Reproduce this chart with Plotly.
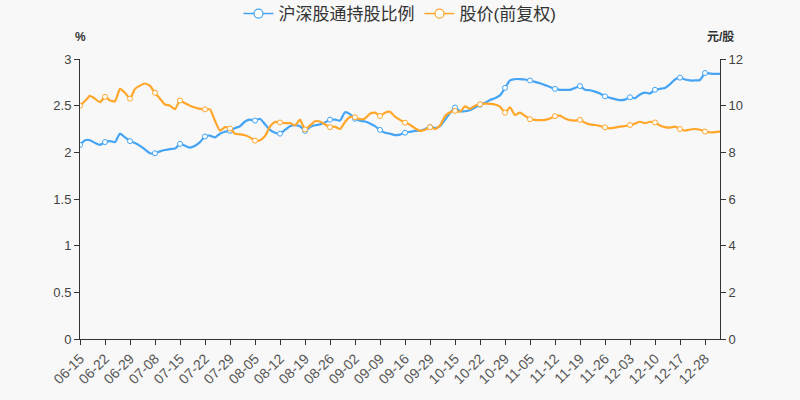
import plotly.graph_objects as go

tick_labels = ["06-15", "06-22", "06-29", "07-08", "07-15", "07-22", "07-29", "08-05",
               "08-12", "08-19", "08-26", "09-02", "09-09", "09-16", "09-29", "10-15",
               "10-22", "10-29", "11-05", "11-12", "11-19", "11-26", "12-03", "12-10",
               "12-17", "12-28"]

holding_pct = [2.08, 2.13, 2.13, 2.10, 2.08, 2.11, 2.12, 2.11, 2.20, 2.16,
               2.12, 2.10, 2.07, 2.03, 1.99, 1.99, 2.01, 2.025, 2.035, 2.04,
               2.09, 2.07, 2.05, 2.07, 2.11, 2.17, 2.18, 2.16, 2.20, 2.22,
               2.23, 2.26, 2.28, 2.33, 2.35, 2.34, 2.36, 2.30, 2.24, 2.21,
               2.20, 2.24, 2.28, 2.29, 2.28, 2.23, 2.27, 2.29, 2.30, 2.32,
               2.35, 2.35, 2.34, 2.43, 2.41, 2.36, 2.34, 2.33, 2.31, 2.28,
               2.24, 2.21, 2.20, 2.185, 2.19, 2.21, 2.22, 2.23, 2.23, 2.25,
               2.27, 2.26, 2.28, 2.35, 2.42, 2.48, 2.44, 2.44, 2.45, 2.48,
               2.51, 2.53, 2.56, 2.58, 2.61, 2.69, 2.77, 2.785, 2.785, 2.78,
               2.77, 2.755, 2.74, 2.72, 2.70, 2.68, 2.67, 2.67, 2.67, 2.69,
               2.71, 2.67, 2.665, 2.65, 2.63, 2.60, 2.585, 2.57, 2.56, 2.565,
               2.59, 2.58, 2.62, 2.64, 2.63, 2.67, 2.68, 2.69, 2.73, 2.78,
               2.80, 2.78, 2.77, 2.77, 2.775, 2.85, 2.845, 2.84, 2.84]

price = [10.0, 10.2, 10.42, 10.3, 10.15, 10.38, 10.22, 10.19, 10.72, 10.55,
         10.3, 10.72, 10.86, 10.95, 10.85, 10.55, 10.3, 10.05, 10.0, 9.85,
         10.22, 10.1, 10.0, 9.92, 9.86, 9.84, 9.84, 9.35, 8.93, 9.08,
         9.02, 8.8, 8.77, 8.73, 8.64, 8.5, 8.52, 8.7, 9.1, 9.3,
         9.28, 9.25, 9.25, 9.15, 9.4, 8.98, 9.15, 9.33, 9.32, 9.2,
         9.08, 9.1, 9.0, 9.3, 9.52, 9.5, 9.42, 9.45, 9.65, 9.7,
         9.56, 9.7, 9.74, 9.53, 9.39, 9.27, 9.18, 9.03, 8.92, 8.97,
         9.08, 9.0, 9.15, 9.55, 9.72, 9.78, 9.74, 9.97, 9.86, 10.0,
         10.06, 10.09, 10.08, 10.05, 9.96, 9.7, 9.93, 9.6, 9.7, 9.56,
         9.42, 9.39, 9.38, 9.39, 9.45, 9.55, 9.57, 9.45, 9.38, 9.36,
         9.39, 9.27, 9.2, 9.17, 9.13, 9.07, 9.03, 9.06, 9.1, 9.13,
         9.17, 9.23, 9.31, 9.25, 9.31, 9.28, 9.15, 9.08, 9.06, 9.1,
         9.0, 8.93, 8.98, 9.0, 8.97, 8.89, 8.86, 8.87, 8.89]

BLUE = "#45a5f4"
ORANGE = "#ffa62b"
FONT = "Liberation Sans, Noto Sans CJK SC, sans-serif"

n = len(holding_pct)
xs = list(range(n))
mk = [i for i in xs if i % 5 == 0]

fig = go.Figure()
series = [("沪深股通持股比例", holding_pct, BLUE, "y"),
          ("股价(前复权)", price, ORANGE, "y2")]
for name, vals, col, ax in series:
    fig.add_trace(go.Scatter(x=xs, y=vals, mode="lines", yaxis=ax, showlegend=False,
                             line=dict(color=col, width=2.2, shape="spline", smoothing=0.5),
                             hoverinfo="skip"))
    fig.add_trace(go.Scatter(x=mk, y=[vals[i] for i in mk], mode="markers", yaxis=ax,
                             showlegend=False,
                             marker=dict(size=5, color="white", line=dict(color=col, width=1))))
for name, vals, col, ax in series:
    fig.add_trace(go.Scatter(x=[None], y=[None], mode="lines+markers", name=name, yaxis=ax,
                             line=dict(color=col, width=1.5),
                             marker=dict(size=9, color="white", line=dict(color=col, width=1.2))))

fig.update_layout(
    width=800, height=400,
    paper_bgcolor="#f8f8f8", plot_bgcolor="#f8f8f8",
    margin=dict(l=80, r=80, t=59, b=61),
    font=dict(family=FONT, color="#333"),
    showlegend=True,
    legend=dict(orientation="h", x=0.5, xanchor="center", y=0.965, yref="container",
                yanchor="middle", font=dict(size=17, color="#333"), itemwidth=30,
                bgcolor="rgba(0,0,0,0)", tracegroupgap=0),
    xaxis=dict(range=[0, n - 1], tickmode="array", tickvals=[i * 5 for i in range(len(tick_labels))],
               ticktext=tick_labels, tickangle=-45, showgrid=False, zeroline=False,
               showline=True, linecolor="#333", linewidth=1, ticks="outside", ticklen=5,
               tickcolor="#333", tickfont=dict(size=14, color="#555"), automargin=False),
    yaxis=dict(range=[0, 3], dtick=0.5, showgrid=False, zeroline=False, showline=True,
               linecolor="#333", linewidth=1, ticks="outside", ticklen=5, tickcolor="#333",
               tickfont=dict(size=13, color="#444"), automargin=False),
    yaxis2=dict(range=[0, 12], dtick=2, overlaying="y", side="right", showgrid=False,
                zeroline=False, showline=True, linecolor="#333", linewidth=1, ticks="outside",
                ticklen=5, tickcolor="#333", tickfont=dict(size=13, color="#444"),
                automargin=False),
    annotations=[
        dict(text="<b>%</b>", xref="paper", yref="paper", x=0, y=1, yshift=22,
             xanchor="center", yanchor="middle",
             showarrow=False, font=dict(size=12, color="#333")),
        dict(text="<b>元/股</b>", xref="paper", yref="paper", x=1, y=1, yshift=22,
             xanchor="center", yanchor="middle",
             showarrow=False, font=dict(size=12, color="#333")),
    ],
)

fig.write_html("out.html", config={"displayModeBar": False},
               post_script="document.body.style.margin='0';document.body.style.background='#f8f8f8';")
